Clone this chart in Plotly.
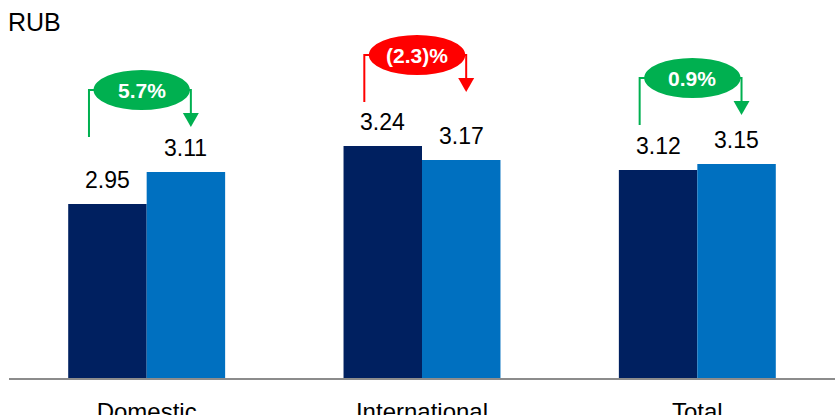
import plotly.graph_objects as go

# ---- data ----
categories = ["Domestic", "International", "Total"]
prev_values = [2.95, 3.24, 3.12]
curr_values = [3.11, 3.17, 3.15]
change_labels = ["5.7%", "(2.3)%", "0.9%"]
change_sign = [1, -1, 1]
unit_label = "RUB"

# ---- style ----
DARK = "#002060"
LIGHT = "#0070C0"
GREEN = "#00B050"
RED = "#FF0000"
FONT = "Arial, Liberation Sans, sans-serif"
bracket_top = [3.52, 3.695, 3.58]   # layout positions of the change brackets

x = list(range(len(categories)))
fig = go.Figure()
fig.add_trace(go.Bar(x=x, y=prev_values, marker=dict(color=DARK, line=dict(width=0)), hoverinfo="skip"))
fig.add_trace(go.Bar(x=x, y=curr_values, marker=dict(color=LIGHT, line=dict(width=0)), hoverinfo="skip"))

bargap = 0.43
half = (1 - bargap) / 4  # center offset of each bar in group

annotations = []
shapes = []
for i, xi in enumerate(x):
    for off, v in ((-half, prev_values[i]), (half, curr_values[i])):
        annotations.append(dict(x=xi + off, y=v, xref="x", yref="y", text=f"{v:.2f}",
                                showarrow=False, yanchor="bottom", yshift=9,
                                font=dict(family=FONT, size=23, color="black")))
    col = GREEN if change_sign[i] > 0 else RED
    top = bracket_top[i]
    xl = xi - half - 0.067
    xr = xi + half + 0.018
    tip = top - 0.185
    head = 0.07
    hw = 0.029
    shapes.append(dict(type="path", xref="x", yref="y",
                       path=f"M {xl},{top-0.235} L {xl},{top} L {xr},{top} L {xr},{tip+head}",
                       line=dict(color=col, width=2)))
    shapes.append(dict(type="path", xref="x", yref="y",
                       path=f"M {xr-hw},{tip+head} L {xr+hw},{tip+head} L {xr},{tip} Z",
                       fillcolor=col, line=dict(color=col, width=0)))
    cx = xi - 0.018
    shapes.append(dict(type="circle", xref="x", yref="y",
                       x0=cx - 0.175, x1=cx + 0.175, y0=top - 0.10, y1=top + 0.10,
                       fillcolor=col, line=dict(width=0)))
    annotations.append(dict(x=cx, y=top, xref="x", yref="y", text=f"<b>{change_labels[i]}</b>",
                            showarrow=False, font=dict(family=FONT, size=21, color="white")))

annotations.append(dict(x=0, y=1, xref="paper", yref="paper", xanchor="left", yanchor="middle",
                        xshift=-3, yshift=-22, text=unit_label, showarrow=False,
                        font=dict(family=FONT, size=25, color="black")))

fig.update_layout(
    width=835, height=415,
    margin=dict(l=9, r=0, t=0, b=37, autoexpand=False),
    barmode="group", bargap=bargap, bargroupgap=0,
    showlegend=False,
    plot_bgcolor="white", paper_bgcolor="white",
    annotations=annotations, shapes=shapes,
    xaxis=dict(range=[-0.5, 2.5], tickmode="array", tickvals=x, ticktext=categories,
               automargin=False,
               showgrid=False, zeroline=False, showline=True, linecolor="#8C8C8C", linewidth=2,
               ticks="outside", ticklen=11, tickcolor="rgba(0,0,0,0)",
               tickfont=dict(family=FONT, size=24, color="black")),
    yaxis=dict(range=[2.08, 3.97], visible=False, showgrid=False, zeroline=False, automargin=False),
)
fig.write_html("out.html")
